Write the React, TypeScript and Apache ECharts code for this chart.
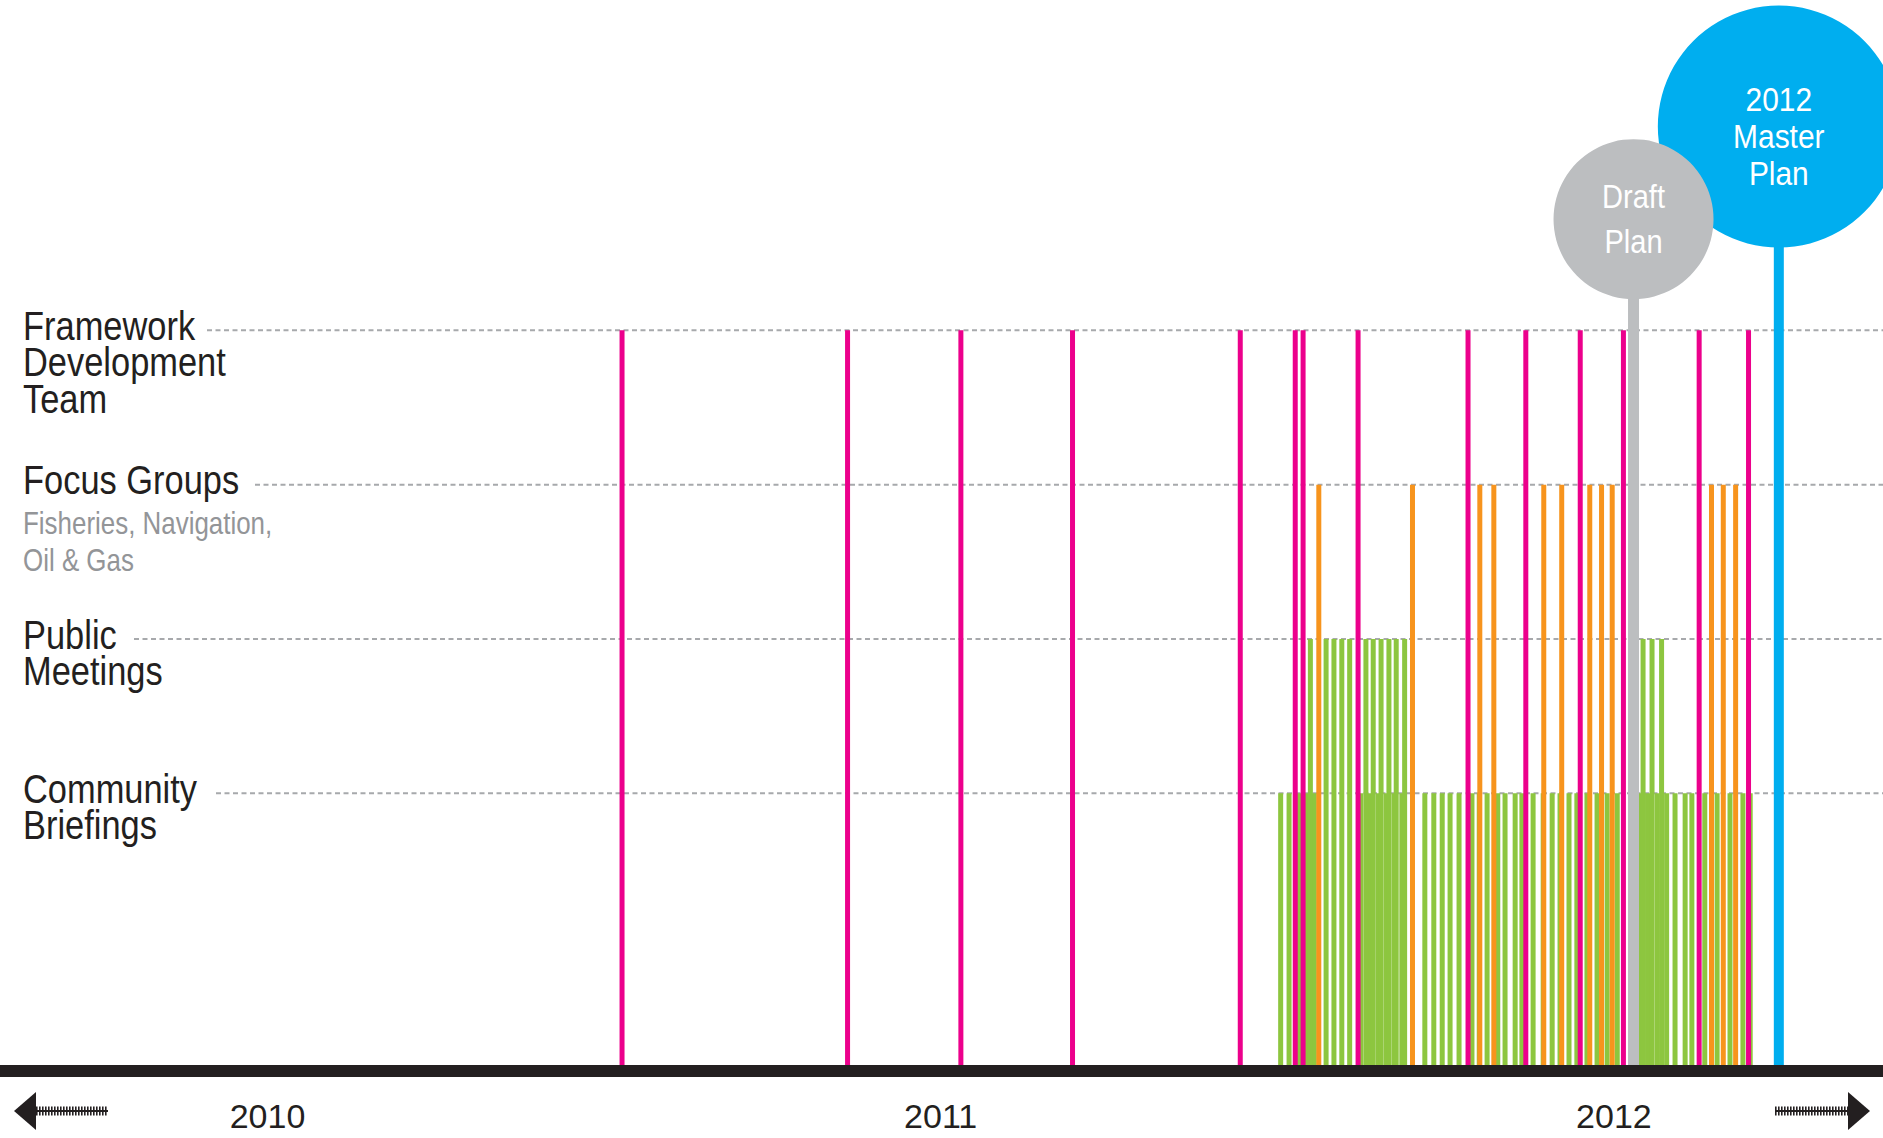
import React, { useEffect, useRef } from "react";
import * as echarts from "echarts";

// ---------- DATA (x = months since 1 January 2010) ----------
const rowLabelLines: string[][] = [
  ["Framework", "Development", "Team"],
  ["Focus Groups"],
  ["Public", "Meetings"],
  ["Community", "Briefings"],
];
const focusSubtitle: string[] = ["Fisheries, Navigation,", "Oil & Gas"];
// row levels on the (hidden) y axis: Framework, Focus, Public, Community
const rowLevels: number[] = [4, 3, 2, 1];

const frameworkMeetings: number[] = [
  12.32, 16.34, 18.36, 20.35, 23.34, 24.32, 24.46, 25.44, 27.4, 28.43, 29.4, 30.17, 31.52, 32.4,
];
const focusGroups: number[] = [
  24.74, 26.41, 27.61, 27.86, 28.75, 29.07, 29.57, 29.78, 29.97, 31.74, 31.95, 32.17,
];
const publicMeetings: number[] = [
  24.59, 24.87, 25.01, 25.15, 25.29, 25.58, 25.71, 25.85, 25.99, 26.12, 26.27, 30.52, 30.68, 30.85,
];
const communityBriefings: number[] = [
  24.06, 24.21, 24.39, 24.53, 24.66, 25.49, 25.65, 25.8, 25.94, 26.08, 26.22, 26.63, 26.79, 26.94,
  27.08, 27.24, 27.47, 27.6, 27.74, 27.93, 28.06, 28.24, 28.36, 28.56, 28.74, 28.9, 29.04, 29.2,
  29.34, 29.52, 29.7, 29.88, 30.06, 30.45, 30.6, 30.77, 30.94, 31.09, 31.27, 31.39, 31.62, 31.84,
  32.07, 32.3, 32.43,
];

const milestoneNames: string[] = ["2012\nMaster\nPlan", "Draft\nPlan"];
const milestoneMonths: number[] = [32.94, 30.35];
const milestoneHeights: number[] = [5.32, 4.72];

const yearLabels: string[] = ["2010", "2011", "2012"];
const yearLabelMonths: number[] = [6, 18, 30];

// ---------- LAYOUT / STYLE ----------
const W = 1883;
const H = 1138;
const X_MIN = 1.232;
const X_MAX = 34.797;
const Y_MIN = -0.76;
const Y_MAX = 6.14;
const FONT = "'Liberation Sans', Arial, Helvetica, sans-serif";
const INK = "#231f20";
const PINK = "#ec008c";
const ORANGE = "#f7941d";
const GREEN = "#8dc63f";
const GREY = "#bcbec0";
const BLUE = "#00aeef";
const DASH = "#a7a9ac";
const SUB = "#939598";
const BAR_W = 5;
const leaderStarts = [207, 255, 134, 216];
const lineOffsets = [-4.5, 32, 68.5];

const milestoneStyle = [
  { color: BLUE, r: 121, stem: 10, fontSize: 34, lh: 37, dy: 10, z: 5 },
  { color: GREY, r: 80, stem: 11, fontSize: 33, lh: 45, dy: 0, z: 10 },
];

const barSeries = (name: string, values: number[], level: number, color: string) => ({
  type: "custom",
  name,
  coordinateSystem: "cartesian2d",
  encode: { x: 0, y: 1 },
  data: values.map((v) => [v, level]),
  renderItem: (params: any, api: any) => {
    const top = api.coord([api.value(0), api.value(1)]);
    const cs = params.coordSys;
    const bottom = cs.y + cs.height;
    return {
      type: "rect",
      shape: { x: top[0] - BAR_W / 2, y: top[1], width: BAR_W, height: bottom - top[1] },
      style: { fill: color },
    };
  },
});

export default function App() {
  const ref = useRef<HTMLDivElement>(null);

  useEffect(() => {
    if (!ref.current) return;
    const chart = echarts.init(ref.current, undefined, { renderer: "svg" });

    const option: any = {
      animation: false,
      backgroundColor: "#ffffff",
      grid: { left: 0, right: 0, top: 0, bottom: 73, containLabel: false, outerBoundsMode: "none" },
      xAxis: {
        type: "value",
        min: X_MIN,
        max: X_MAX,
        offset: 6,
        axisLine: { show: true, onZero: false, lineStyle: { color: INK, width: 12 } },
        axisTick: { show: false },
        splitLine: { show: false },
        axisLabel: {
          customValues: yearLabelMonths,
          formatter: (v: number) => {
            const i = yearLabelMonths.indexOf(Math.round(v));
            return i >= 0 ? yearLabels[i] : "";
          },
          fontSize: 34,
          fontFamily: FONT,
          color: INK,
          margin: 28,
        },
      },
      yAxis: { type: "value", min: Y_MIN, max: Y_MAX, show: false },
      series: [
        barSeries("Community Briefings", communityBriefings, rowLevels[3], GREEN),
        barSeries("Public Meetings", publicMeetings, rowLevels[2], GREEN),
        barSeries("Focus Groups", focusGroups, rowLevels[1], ORANGE),
        barSeries("Framework Development Team", frameworkMeetings, rowLevels[0], PINK),
        {
          type: "custom",
          name: "Milestones",
          coordinateSystem: "cartesian2d",
          encode: { x: 0, y: 1 },
          data: milestoneMonths.map((m, i) => [m, milestoneHeights[i]]),
          renderItem: (params: any, api: any) => {
            const i = params.dataIndex;
            const s = milestoneStyle[i];
            const c = api.coord([api.value(0), api.value(1)]);
            const cs = params.coordSys;
            const bottom = cs.y + cs.height;
            return {
              type: "group",
              children: [
                {
                  type: "rect",
                  z2: s.z,
                  shape: { x: c[0] - s.stem / 2, y: c[1], width: s.stem, height: bottom - c[1] },
                  style: { fill: s.color },
                },
                {
                  type: "circle",
                  z2: s.z,
                  shape: { cx: c[0], cy: c[1], r: s.r },
                  style: { fill: s.color },
                },
                {
                  type: "text",
                  z2: s.z + 1,
                  x: c[0],
                  y: c[1] + s.dy,
                  scaleX: 0.88,
                  style: {
                    text: milestoneNames[i],
                    align: "center",
                    verticalAlign: "middle",
                    fill: "#ffffff",
                    fontSize: s.fontSize,
                    fontFamily: FONT,
                    lineHeight: s.lh,
                  },
                },
              ],
            };
          },
        },
      ],
    };
    chart.setOption(option);

    const yOf = (lvl: number) => chart.convertToPixel({ gridIndex: 0 } as any, [X_MIN, lvl])[1] as number;
    const graphics: any[] = [];
    rowLevels.forEach((lvl, r) => {
      const y = yOf(lvl);
      graphics.push({
        type: "line",
        z: 0,
        shape: { x1: leaderStarts[r], y1: y, x2: W, y2: y },
        style: { stroke: DASH, lineWidth: 2, lineDash: [5, 3.5] },
      });
      rowLabelLines[r].forEach((t, k) => {
        graphics.push({
          type: "text",
          x: 23,
          y: y + lineOffsets[k],
          scaleX: 0.85,
          style: { text: t, fill: INK, fontSize: 40.5, fontFamily: FONT, align: "left", verticalAlign: "middle" },
        });
      });
      if (r === 1) {
        focusSubtitle.forEach((t, k) => {
          graphics.push({
            type: "text",
            x: 23,
            y: y + 38.5 + k * 37,
            scaleX: 0.85,
            style: { text: t, fill: SUB, fontSize: 30.5, fontFamily: FONT, align: "left", verticalAlign: "middle" },
          });
        });
      }
    });
    // timeline arrows
    const ay = 1111;
    graphics.push(
      { type: "polygon", shape: { points: [[14, ay], [36, ay - 19], [36, ay + 19]] }, style: { fill: INK } },
      { type: "line", shape: { x1: 36, y1: ay, x2: 108, y2: ay }, style: { stroke: INK, lineWidth: 2 } },
      { type: "line", shape: { x1: 36, y1: ay, x2: 108, y2: ay }, style: { stroke: INK, lineWidth: 9, lineDash: [1.6, 1.4] } },
      { type: "polygon", shape: { points: [[1870, ay], [1848, ay - 19], [1848, ay + 19]] }, style: { fill: INK } },
      { type: "line", shape: { x1: 1775, y1: ay, x2: 1848, y2: ay }, style: { stroke: INK, lineWidth: 2 } },
      { type: "line", shape: { x1: 1775, y1: ay, x2: 1848, y2: ay }, style: { stroke: INK, lineWidth: 9, lineDash: [1.6, 1.4] } }
    );
    chart.setOption({ graphic: graphics });

    return () => chart.dispose();
  }, []);

  return (
    <div
      ref={ref}
      style={{ position: "fixed", left: 0, top: 0, width: W, height: H, background: "#fff" }}
    />
  );
}
